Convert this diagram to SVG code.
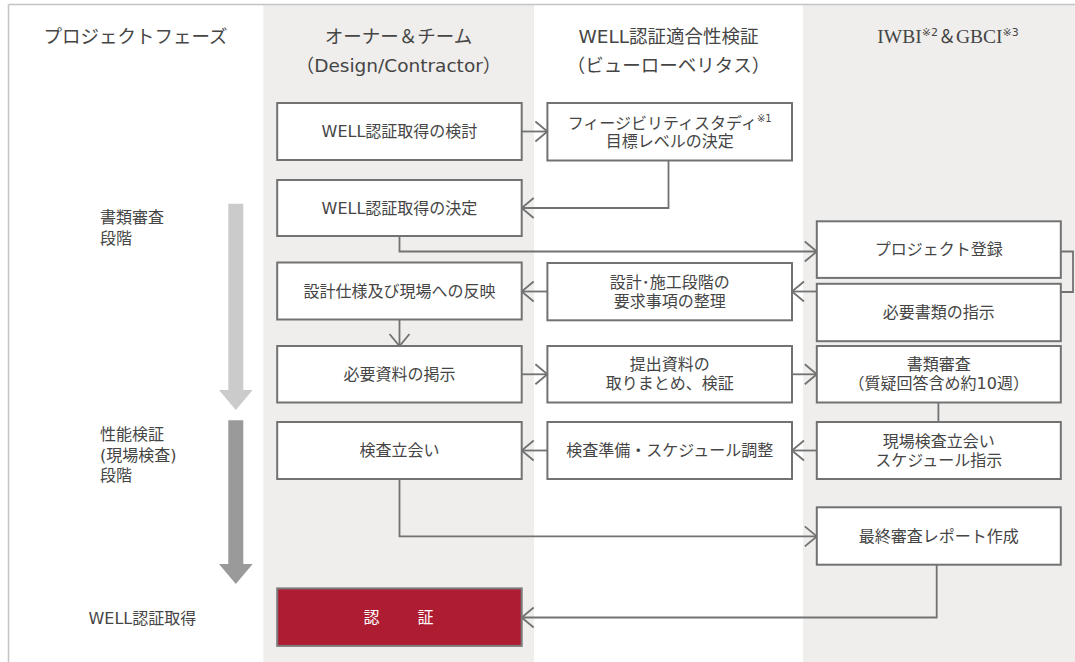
<svg xmlns="http://www.w3.org/2000/svg" width="1075" height="662" viewBox="0 0 1075 662">
<style>
text{font-family:"DejaVu Sans","Noto Sans CJK JP",sans-serif;fill:#454545;}
.hd{font-size:18.5px;text-anchor:middle;dominant-baseline:central;}
.bx{font-size:16px;text-anchor:middle;dominant-baseline:central;}
.ph{font-size:16px;dominant-baseline:central;}
.box{fill:#fff;stroke:#727272;stroke-width:2;}
.cn{fill:none;stroke:#727272;stroke-width:1.8;}
</style>
<defs>
<marker id="ah" markerUnits="userSpaceOnUse" markerWidth="30" markerHeight="30" viewBox="-15 -15 30 30" refX="0" refY="0" orient="auto">
<path d="M-12,-10 L0,0 L-12,10" fill="none" stroke="#727272" stroke-width="1.8"/>
</marker>
</defs>
<rect x="0" y="0" width="1075" height="662" fill="#fff"/>
<g id="lanes">
<rect x="263.3" y="4.5" width="270.7" height="657.5" fill="#efeeec"/>
<rect x="803" y="4.5" width="272" height="657.5" fill="#efeeec"/>
<line x1="8.5" y1="4.5" x2="1075" y2="4.5" stroke="#c4c4c4" stroke-width="1.5"/>
<line x1="8.5" y1="4.5" x2="8.5" y2="662" stroke="#c4c4c4" stroke-width="1.5"/>
</g>
<g id="headers">
<text class="hd" x="135.5" y="36.3">プロジェクトフェーズ</text>
<text class="hd" x="398.5" y="36.3">オーナー＆チーム</text>
<text class="hd" x="398.5" y="65.7">（Design/Contractor）</text>
<text class="hd" x="668.5" y="36.3">WELL認証適合性検証</text>
<text class="hd" x="668.5" y="65.7">（ビューローベリタス）</text>
<text x="948" y="43" style="font-size:19.5px;text-anchor:middle;"><tspan font-family="Liberation Serif, serif">IWBI</tspan><tspan font-size="11" dy="-7">※2</tspan><tspan dy="7" font-family="Noto Sans CJK JP, sans-serif" font-size="18">＆</tspan><tspan font-family="Liberation Serif, serif">GBCI</tspan><tspan font-size="11" dy="-7">※3</tspan></text>
</g>
<g id="phases">
<g id="phase-doc">
<path d="M228.3 203.8 H243.3 V390 H252.7 L235.8 410 L219 390 H228.3 Z" fill="#cbcbcb"/>
<text class="ph" x="100" y="217.5">書類審査</text>
<text class="ph" x="100" y="238.2">段階</text>
</g>
<g id="phase-perf">
<path d="M228.3 420.3 H243.3 V564 H252.7 L235.8 584 L219 564 H228.3 Z" fill="#9a9a9a"/>
<text class="ph" x="100" y="434.1">性能検証</text>
<text class="ph" x="100" y="455.3">(現場検査)</text>
<text class="ph" x="100" y="475.4">段階</text>
</g>
<text class="ph" x="142.4" y="618" style="text-anchor:middle">WELL認証取得</text>
</g>
<g id="connectors">
<path class="cn" marker-end="url(#ah)" d="M521.7 131.5 H547.4"/>
<path class="cn" marker-end="url(#ah)" d="M668.5 160.5 V208 H521.7"/>
<path class="cn" marker-end="url(#ah)" d="M399.5 236 V251.5 H816.8"/>
<path class="cn" d="M1060.8 251.5 H1073 V292 H1060.8"/>
<path class="cn" marker-end="url(#ah)" d="M816.8 291.5 H792"/>
<path class="cn" marker-end="url(#ah)" d="M547.4 291.5 H521.7"/>
<path class="cn" marker-end="url(#ah)" d="M399.5 319.5 V346"/>
<path class="cn" marker-end="url(#ah)" d="M521.7 374.3 H547.4"/>
<path class="cn" marker-end="url(#ah)" d="M792 374.3 H816.8"/>
<path class="cn" d="M938.4 402.5 V422"/>
<path class="cn" marker-end="url(#ah)" d="M816.8 450.5 H792"/>
<path class="cn" marker-end="url(#ah)" d="M547.4 450.5 H521.7"/>
<path class="cn" marker-end="url(#ah)" d="M399.5 479 V536.4 H816.8"/>
<path class="cn" marker-end="url(#ah)" d="M936.7 564.7 V617.5 H521.7"/>
</g>
<g id="n1"><rect class="box" x="277.2" y="103" width="244.5" height="57"/><text class="bx" x="399.5" y="131.5">WELL認証取得の検討</text></g>
<g id="n2"><rect class="box" x="547.4" y="103" width="244.6" height="57.5"/><text class="bx" x="669.7" y="122.5"><tspan>フィージビリティスタディ</tspan><tspan font-size="10" dy="-5">※1</tspan></text><text class="bx" x="669.7" y="141.5">目標レベルの決定</text></g>
<g id="n3"><rect class="box" x="277.2" y="180" width="244.5" height="56"/><text class="bx" x="399.5" y="208">WELL認証取得の決定</text></g>
<g id="n4"><rect class="box" x="816.8" y="221.3" width="244" height="56.6"/><text class="bx" x="938.8" y="249.6">プロジェクト登録</text></g>
<g id="n5"><rect class="box" x="816.8" y="283.8" width="244" height="57.4"/><text class="bx" x="938.8" y="312.5">必要書類の指示</text></g>
<g id="n6"><rect class="box" x="547.4" y="263" width="244.6" height="57.3"/><text class="bx" x="669.7" y="282">設計･施工段階の</text><text class="bx" x="669.7" y="301">要求事項の整理</text></g>
<g id="n7"><rect class="box" x="277.2" y="262.5" width="244.5" height="57"/><text class="bx" x="399.5" y="291">設計仕様及び現場への反映</text></g>
<g id="n8"><rect class="box" x="277.2" y="346" width="244.5" height="56.5"/><text class="bx" x="399.5" y="374.3">必要資料の掲示</text></g>
<g id="n9"><rect class="box" x="547.4" y="346" width="244.6" height="56.5"/><text class="bx" x="669.7" y="364.8">提出資料の</text><text class="bx" x="669.7" y="383.8">取りまとめ、検証</text></g>
<g id="n10"><rect class="box" x="816.8" y="346" width="244" height="56.5"/><text class="bx" x="938.8" y="364.8">書類審査</text><text class="bx" x="938.8" y="383.8">（質疑回答含め約10週）</text></g>
<g id="n11"><rect class="box" x="277.2" y="422" width="244.5" height="57"/><text class="bx" x="399.5" y="450.5">検査立会い</text></g>
<g id="n12"><rect class="box" x="547.4" y="422" width="244.6" height="57"/><text class="bx" x="669.7" y="450.5">検査準備・スケジュール調整</text></g>
<g id="n13"><rect class="box" x="816.8" y="422" width="244" height="57"/><text class="bx" x="938.8" y="441">現場検査立会い</text><text class="bx" x="938.8" y="460">スケジュール指示</text></g>
<g id="n14"><rect class="box" x="816.8" y="507.3" width="244" height="57.4"/><text class="bx" x="938.8" y="536">最終審査レポート作成</text></g>
<g id="n15"><rect x="277.2" y="588.4" width="244.5" height="57.5" fill="#ae1c31" stroke="#7a7a7a" stroke-width="2"/><text class="bx" x="399.5" y="617.2" style="fill:#fff;letter-spacing:2px" xml:space="preserve">認　　証</text></g>
</svg>
